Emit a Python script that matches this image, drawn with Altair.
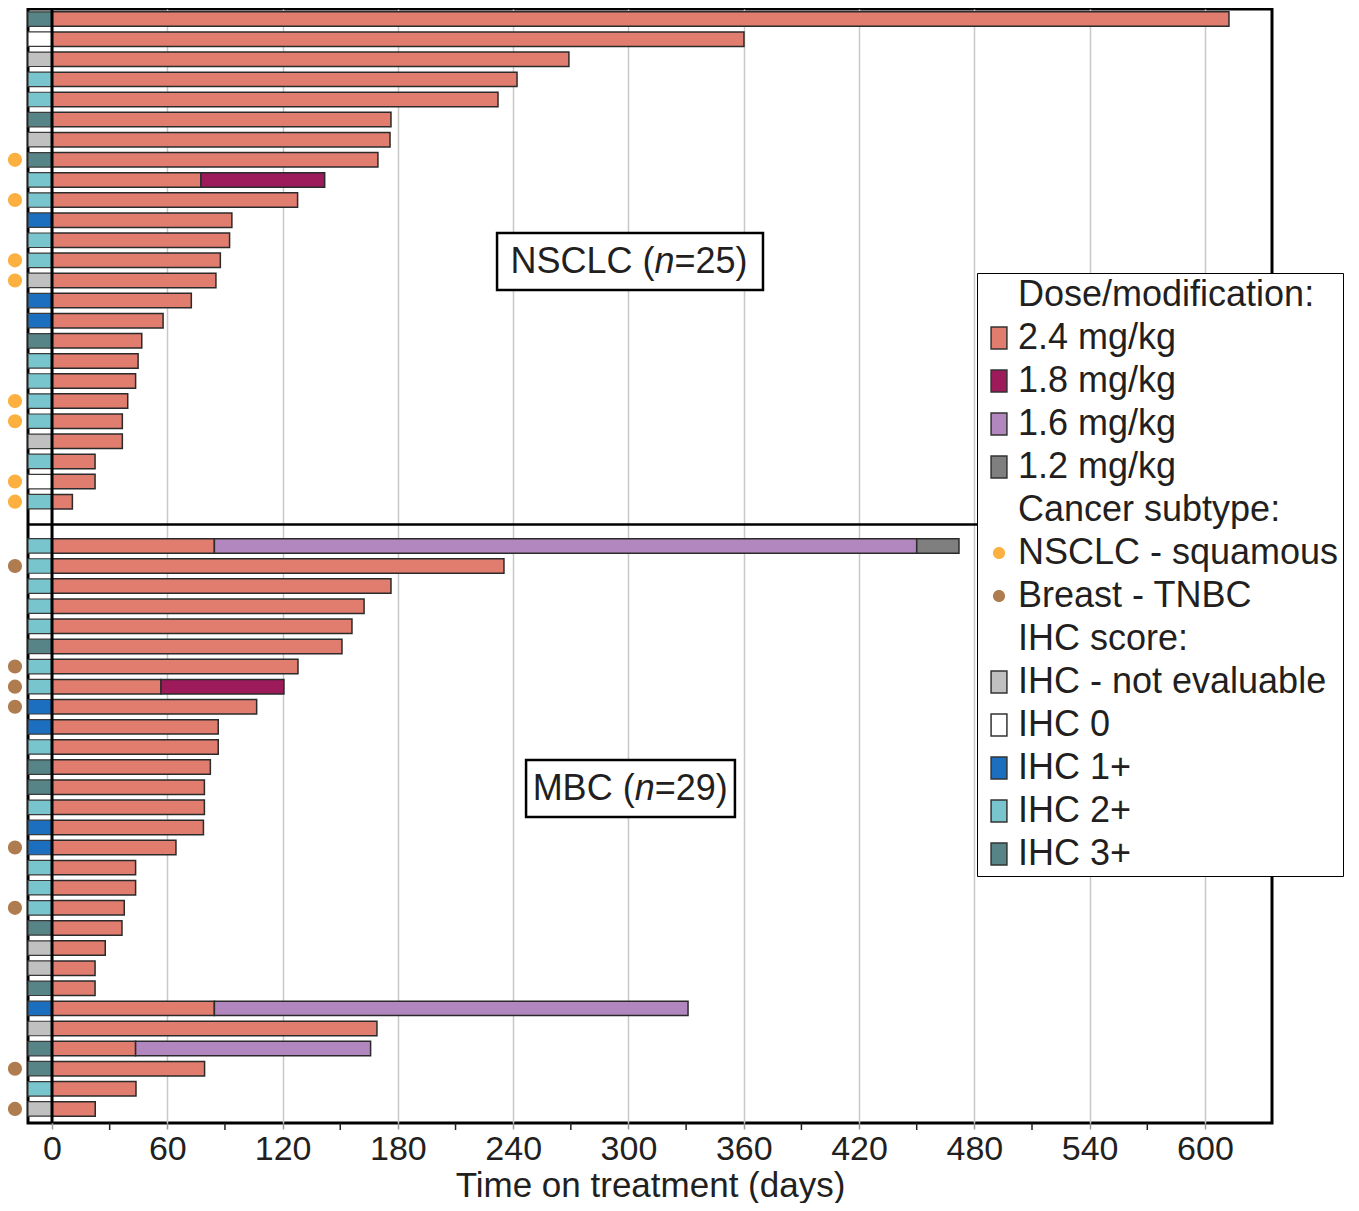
import altair as alt
import pandas as pd

FONT = "Liberation Sans"
TXT = "#231F20"
W, H = 1244, 1114
X_MIN, X_MAX = -12.5, 634.9
Y_MIN, Y_MAX = -0.5, 54.9
GAP = 1.2
HALF = 0.36

dose_levels = ["2.4 mg/kg", "1.8 mg/kg", "1.6 mg/kg", "1.2 mg/kg"]
dose_colors = ["#E07D6E", "#9D1B5B", "#B286BF", "#7F7F7F"]
ihc_levels = ["IHC - not evaluable", "IHC 0", "IHC 1+", "IHC 2+", "IHC 3+"]
ihc_colors = ["#C0C0C0", "#FFFFFF", "#1B6FBE", "#79C5CE", "#578587"]
subtype_levels = ["NSCLC - squamous", "Breast - TNBC"]
subtype_colors = ["#FBB040", "#AF7C4F"]

NE, I0, I1, I2, I3 = ihc_levels

# ---- NSCLC (n=25), top to bottom ----
nsclc_ihc = [I3, I0, NE, I2, I2, I3, NE, I3, I2, I2, I1, I2, I2, NE, I1,
             I1, I3, I2, I2, I2, I2, NE, I2, I0, I2]
nsclc_end_24 = [612.5, 360.1, 269.0, 242.0, 232.1, 176.4, 175.9, 169.6, 77.5,
                127.8, 93.6, 92.4, 87.6, 85.3, 72.5, 57.8, 46.7, 44.8, 43.5,
                39.4, 36.6, 36.6, 22.4, 22.4, 10.6]
nsclc_end_18 = [None] * 8 + [141.9] + [None] * 16
nsclc_end_16 = [None] * 25
nsclc_end_12 = [None] * 25
nsclc_squamous = [0, 0, 0, 0, 0, 0, 0, 1, 0, 1, 0, 0, 1, 1, 0, 0, 0, 0, 0,
                  1, 1, 0, 0, 1, 1]

# ---- MBC (n=29), top to bottom ----
mbc_ihc = [I2, I2, I2, I2, I2, I3, I2, I2, I1, I1, I2, I3, I3, I2, I1, I1,
           I2, I2, I2, I3, NE, NE, I3, I1, NE, I3, I3, I2, NE]
mbc_end_24 = [84.5, 235.2, 176.4, 162.4, 156.1, 150.9, 128.0, 56.7, 106.5,
              86.5, 86.5, 82.4, 79.3, 79.3, 78.8, 64.5, 43.5, 43.5, 37.6,
              36.4, 27.7, 22.4, 22.4, 84.5, 169.1, 43.5, 79.4, 43.7, 22.5]
mbc_end_18 = [None] * 7 + [120.7] + [None] * 21
mbc_end_16 = [450.0] + [None] * 22 + [331.0, None, 165.8, None, None, None]
mbc_end_12 = [472.0] + [None] * 28
mbc_tnbc = [0, 1, 0, 0, 0, 0, 1, 1, 1, 0, 0, 0, 0, 0, 0, 1, 0, 0, 1, 0, 0,
            0, 0, 0, 0, 0, 1, 0, 1]

minor_ticks = list(range(30, 571, 60))
major_ticks = list(range(0, 601, 60))

ann_head = ["NSCLC (", "MBC ("]
ann_tail = ["=25)", "=29)"]
ann_split = [313.5, 303.2]
ann_row = [12.08, 38.29]
ann_box_x0 = [231.6, 246.7]
ann_box_x1 = [370.0, 355.4]
ann_box_y0 = [10.64, 36.85]
ann_box_y1 = [13.48, 39.68]

# ---- build tables ----
segs, ihcs, dots = [], [], []
def add_group(offset, ihc, e24, e18, e16, e12, flags, flag_name):
    for i in range(len(ihc)):
        pos = offset + i
        prev = 0.0
        for dose, end in zip(dose_levels, (e24[i], e18[i], e16[i], e12[i])):
            if end is not None:
                segs.append({"start": prev, "end": end, "dose": dose,
                             "y0": pos - HALF, "y1": pos + HALF})
                prev = end
        ihcs.append({"x0": X_MIN, "x1": 0.0, "ihc": ihc[i],
                     "y0": pos - HALF, "y1": pos + HALF})
        if flags[i]:
            dots.append({"pos": pos, "subtype": flag_name})

add_group(0, nsclc_ihc, nsclc_end_24, nsclc_end_18, nsclc_end_16,
          nsclc_end_12, nsclc_squamous, subtype_levels[0])
mbc_offset = len(nsclc_ihc) + GAP
add_group(mbc_offset, mbc_ihc, mbc_end_24, mbc_end_18, mbc_end_16,
          mbc_end_12, mbc_tnbc, subtype_levels[1])

seg_df = pd.DataFrame(segs)
ihc_df = pd.DataFrame(ihcs)
dot_df = pd.DataFrame(dots)
ann_df = pd.DataFrame({"head": ann_head, "tail": ann_tail, "xs": ann_split,
                       "yc": ann_row, "bx0": ann_box_x0, "bx1": ann_box_x1,
                       "by0": ann_box_y0, "by1": ann_box_y1, "n": ["n", "n"]})
sep_df = pd.DataFrame({"y": [len(nsclc_ihc) - 1 + (GAP + 1) / 2 + 0.04]})
zero_df = pd.DataFrame({"x": [0.0]})
minor_df = pd.DataFrame({"x": minor_ticks})

# legend entries (symbol paths in Vega's unit space)
RECT = "M-0.888,-1.233L0.888,-1.233L0.888,1.233L-0.888,1.233Z"
DOT = "M-0.68,0A0.68,0.68 0 1,0 0.68,0A0.68,0.68 0 1,0 -0.68,0Z"
CLEAR = "rgba(0,0,0,0)"
legend_keys = (["Dose/modification:"] + dose_levels + ["Cancer subtype:"]
               + subtype_levels + ["IHC score:"] + ihc_levels)
legend_fill = ([CLEAR] + dose_colors + [CLEAR] + subtype_colors + [CLEAR]
               + ihc_colors)
legend_shape = ([RECT] * 5 + [RECT] + [DOT, DOT] + [RECT] * 6)
legend_stroke = ([CLEAR] + ["#333333"] * 4 + [CLEAR] * 3 + [CLEAR]
                 + ["#333333"] * 5)
legend_df = pd.DataFrame({"key": legend_keys})

# ---- scales / encodings ----
xscale = alt.Scale(domain=[X_MIN, X_MAX], nice=False, zero=False)
yscale = alt.Scale(domain=[Y_MIN, Y_MAX], reverse=True, nice=False, zero=False)
xaxis = alt.Axis(values=major_ticks, title="Time on treatment (days)",
                 grid=True, ticks=True, tickSize=6, tickColor="#9A9A9A",
                 tickWidth=1.5, domain=False,
                 labelFontSize=34, titleFontSize=35, labelFont=FONT,
                 titleFont=FONT, labelColor=TXT, titleColor=TXT,
                 titleFontWeight="normal", gridColor="#C8C8C8",
                 gridWidth=1.5, labelPadding=3, titlePadding=2,
                 labelFlush=False)

def X(f):
    return alt.X(f, type="quantitative", scale=xscale, axis=xaxis)

def Y(f):
    return alt.Y(f, type="quantitative", scale=yscale, axis=None)

boxes = alt.Chart(ann_df).mark_rect(fill="white", stroke="black",
                                    strokeWidth=2.5).encode(
    x=X("bx0"), x2="bx1", y=Y("by0"), y2="by1")
t_head = alt.Chart(ann_df).mark_text(align="right", baseline="middle",
                                     fontSize=36, font=FONT, color=TXT).encode(
    x=X("xs"), y=Y("yc"), text="head:N")
t_n = alt.Chart(ann_df).mark_text(align="left", baseline="middle",
                                  fontSize=36, font=FONT, color=TXT,
                                  fontStyle="italic").encode(
    x=X("xs"), y=Y("yc"), text="n:N")
t_tail = alt.Chart(ann_df).mark_text(align="left", baseline="middle",
                                     fontSize=36, font=FONT, color=TXT,
                                     dx=20).encode(
    x=X("xs"), y=Y("yc"), text="tail:N")

bars = alt.Chart(seg_df).mark_rect(stroke="#2B2B2B", strokeWidth=1.5).encode(
    x=X("start"), x2="end", y=Y("y0"), y2="y1",
    color=alt.Color("dose:N", scale=alt.Scale(domain=dose_levels,
                                              range=dose_colors),
                    legend=None))
ihc_cells = alt.Chart(ihc_df).mark_rect(stroke="#3A3A3A",
                                        strokeWidth=1.2).encode(
    x=X("x0"), x2="x1", y=Y("y0"), y2="y1",
    color=alt.Color("ihc:N", scale=alt.Scale(domain=ihc_levels,
                                             range=ihc_colors),
                    legend=None))
zero_line = alt.Chart(zero_df).mark_rule(color="black",
                                         strokeWidth=3).encode(x=X("x"))
sep_line = alt.Chart(sep_df).mark_rule(color="black",
                                       strokeWidth=2.5).encode(y=Y("y"))
dot_marks = alt.Chart(dot_df).mark_circle(size=200, opacity=1).encode(
    x=alt.value(-13), y=Y("pos"),
    color=alt.Color("subtype:N", scale=alt.Scale(domain=subtype_levels,
                                                 range=subtype_colors),
                    legend=None))
minor = alt.Chart(minor_df).mark_rule(color=TXT, strokeWidth=1.5).encode(
    x=X("x"), y=alt.value(H), y2=alt.value(H + 7))

leg = alt.Legend(title=None, orient="none", legendX=949, legendY=264,
                 labelFontSize=36, labelFont=FONT, labelColor=TXT,
                 labelLimit=600, symbolSize=318, symbolStrokeWidth=1.5,
                 padding=4, rowPadding=7.0, labelOffset=1,
                 strokeColor="black", fillColor="white")
legend_layer = alt.Chart(legend_df).mark_point(filled=True, opacity=1).encode(
    x=alt.value(-9999), y=alt.value(-9999),
    color=alt.Color("key:N", scale=alt.Scale(domain=legend_keys,
                                             range=legend_fill), legend=leg),
    shape=alt.Shape("key:N", scale=alt.Scale(domain=legend_keys,
                                             range=legend_shape), legend=leg),
    stroke=alt.Stroke("key:N", scale=alt.Scale(domain=legend_keys,
                                               range=legend_stroke),
                      legend=leg))

chart = alt.layer(
    boxes, t_head, t_n, t_tail, bars, ihc_cells, zero_line, sep_line,
    dot_marks, minor, legend_layer
).resolve_scale(
    color="independent", shape="independent", stroke="independent"
).properties(
    width=W, height=H,
    autosize=alt.AutoSizeParams(type="none"),
    padding={"left": 20, "top": 1, "right": 79, "bottom": 80},
    background="white",
).configure_view(stroke="black", strokeWidth=3)

chart.save("out.html", embed_options={"renderer": "svg", "actions": False})
